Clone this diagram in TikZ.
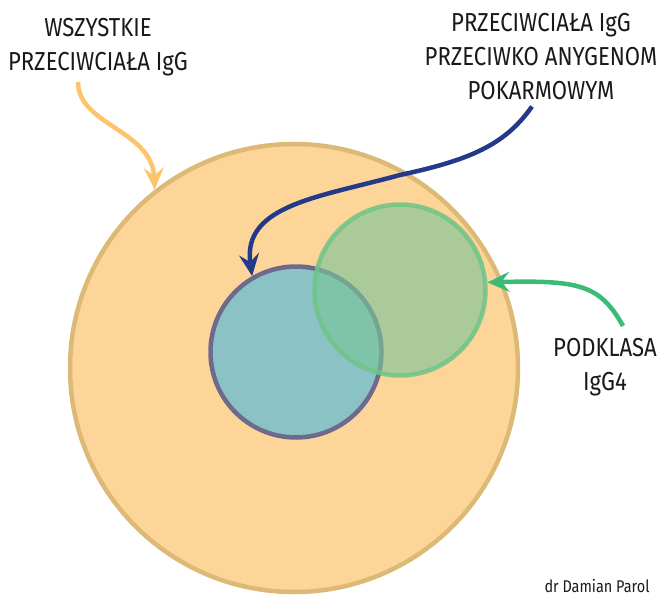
\documentclass[tikz,border=0pt]{standalone}
\usepackage{fontspec}
\setmainfont[FakeStretch=0.85]{Fira Sans}
\usetikzlibrary{arrows.meta}
\definecolor{bigfill}{HTML}{FDD598}
\definecolor{bigline}{HTML}{DCBA76}
\definecolor{arrorange}{HTML}{FEC46C}
\definecolor{arrblue}{HTML}{223A89}
\definecolor{arrgreen}{HTML}{3CBB77}
\definecolor{foodfill}{HTML}{8AC2C5}
\definecolor{foodline}{HTML}{6E6A8D}
\definecolor{subfill}{HTML}{7AC69A}
\definecolor{subline}{HTML}{6EC487}
\begin{document}
\begin{tikzpicture}[x=1pt,y=-1pt,
  caption/.style={align=center, font=\fontsize{26}{34}\selectfont, text=black!90, inner sep=0pt},
  ring/.style={circle, line width=4.5pt, inner sep=0pt},
  pointer/.style={line width=4.5pt, -{Stealth[length=22pt,width=20pt,inset=8pt]}}]
\useasboundingbox (0,0) rectangle (660,596);
% Three sets
\node[ring, draw=bigline, fill=bigfill, minimum size=448pt] (all) at (294,368) {};
\node[ring, draw=foodline, fill=foodfill, minimum size=171pt] (food) at (296,352) {};
\node[ring, draw=subline, fill=subfill, fill opacity=0.63, draw opacity=0.85, minimum size=171pt] (igg4) at (400,290) {};
% Labels
\node[caption] (alltxt) at (98,47) {WSZYSTKIE\\PRZECIWCIAŁA IgG};
\node[caption] (foodtxt) at (541,57) {PRZECIWCIAŁA IgG\\PRZECIWKO ANYGENOM\\POKARMOWYM};
\node[caption] (igg4txt) at (605,367) {PODKLASA\\IgG4};
\node[caption, font=\fontsize{17}{20}\selectfont] (author) at (597,586) {dr Damian Parol};
% Arrows to the sets
\draw[pointer, arrorange] ([shift={(-20,6)}]alltxt.south) .. controls (78,125) and (152,130) .. (all.128);
\draw[pointer, arrblue] ([shift={(-9,6)}]foodtxt.south) .. controls (505,145) and (470,160) .. (400,175)
  .. controls (320,197) and (242,205) .. (food.120);
\draw[pointer, arrgreen] ([shift={(18,-12)}]igg4txt.north) .. controls (600,285) and (580,280) .. (igg4.5);
\end{tikzpicture}
\end{document}
